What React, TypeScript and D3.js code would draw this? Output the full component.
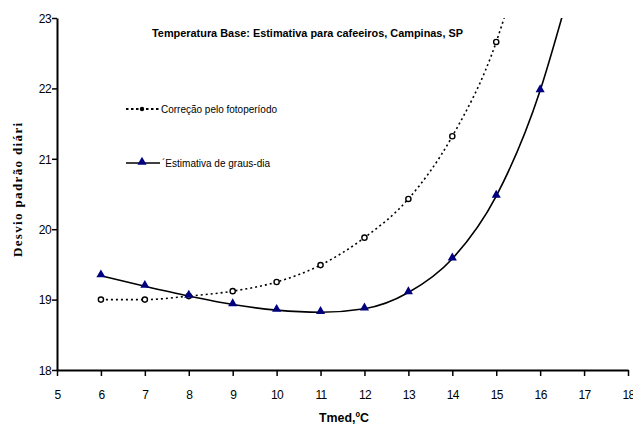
import React, { useRef, useEffect } from 'react';
import * as d3 from 'd3';

const xTicks = [5, 6, 7, 8, 9, 10, 11, 12, 13, 14, 15, 16, 17, 18];
const yTicks = [18, 19, 20, 21, 22, 23];

const tmedCorrecao = [6, 7, 8, 9, 10, 11, 12, 13, 14, 15];
const correcao = [19.0, 19.0, 19.05, 19.12, 19.25, 19.49, 19.88, 20.43, 21.32, 22.66];
// where the dotted curve leaves the top of the plot
const correcaoTail = [[15.19, 23.02]];

const tmedEstimativa = [6, 7, 8, 9, 10, 11, 12, 13, 14, 15, 16];
const estimativa = [19.34, 19.19, 19.05, 18.93, 18.85, 18.82, 18.87, 19.1, 19.58, 20.47, 21.97];
const estimativaTail = [[16.5, 23.02]];

const title = 'Temperatura Base: Estimativa para cafeeiros, Campinas, SP';
const legendLabels = ['Correção pelo fotoperíodo', '\u00b4Estimativa de graus-dia'];
const xLabel = 'Tmed,ºC';
const yLabel = 'Desvio padrão diário';

const NAVY = '#000080';
const SANS = '"Liberation Sans", Arial, sans-serif';

const App = () => {
    const ref = useRef<SVGSVGElement>(null);

    useEffect(() => {
        const svg = d3.select(ref.current);
        svg.selectAll('*').remove();

        const x = d3.scaleLinear().domain([5, 18]).range([57, 628]);
        const y = d3.scaleLinear().domain([18, 23]).range([370, 18]);

        svg.append('clipPath').attr('id', 'plot')
            .append('rect').attr('x', 57).attr('y', 18).attr('width', 580).attr('height', 360);
        svg.append('clipPath').attr('id', 'ylab')
            .append('rect').attr('x', 0).attr('y', 123).attr('width', 40).attr('height', 200);

        // axes
        const xAxis = svg.append('g')
            .attr('transform', `translate(0,${y(18)})`)
            .call(d3.axisBottom(x).tickValues(xTicks).tickSize(6).tickSizeOuter(0).tickFormat(d3.format('d')));
        const yAxis = svg.append('g')
            .attr('transform', `translate(${x(5)},0)`)
            .call(d3.axisLeft(y).tickValues(yTicks).tickSize(5).tickSizeOuter(0).tickFormat(d3.format('d')));
        [xAxis, yAxis].forEach(a => {
            a.select('.domain').attr('stroke', '#000').attr('stroke-width', 2);
            a.selectAll('.tick line').attr('stroke', '#000').attr('stroke-width', 1.5);
            a.selectAll('.tick text')
                .attr('fill', '#000')
                .style('font-family', SANS)
                .style('font-size', '12px')
                .style('letter-spacing', '-0.6px');
        });
        xAxis.selectAll('.tick text').attr('dy', 0).attr('y', 29);
        yAxis.selectAll('.tick text').attr('x', -6).attr('dy', '0.36em');

        const plot = svg.append('g').attr('clip-path', 'url(#plot)');
        const line = d3.line<number[]>()
            .x(d => x(d[0]))
            .y(d => y(d[1]))
            .curve(d3.curveMonotoneX);

        const corrPts = tmedCorrecao.map((t, i) => [t, correcao[i]]).concat(correcaoTail);
        const estPts = tmedEstimativa.map((t, i) => [t, estimativa[i]]).concat(estimativaTail);

        plot.append('path')
            .attr('d', line(corrPts))
            .attr('fill', 'none')
            .attr('stroke', '#000')
            .attr('stroke-width', 1.6)
            .attr('stroke-dasharray', '2 3');

        plot.append('path')
            .attr('d', line(estPts))
            .attr('fill', 'none')
            .attr('stroke', '#000')
            .attr('stroke-width', 1.6);

        const tri = d3.symbol().type(d3.symbolTriangle).size(36);

        plot.selectAll('circle.c')
            .data(tmedCorrecao)
            .join('circle')
            .attr('cx', d => x(d))
            .attr('cy', (d, i) => y(correcao[i]))
            .attr('r', 2.6)
            .attr('fill', '#fff')
            .attr('stroke', '#000')
            .attr('stroke-width', 1.4);

        plot.selectAll('path.t')
            .data(tmedEstimativa)
            .join('path')
            .attr('class', 't')
            .attr('d', tri())
            .attr('transform', (d, i) => `translate(${x(d)},${y(estimativa[i]) - 1})`)
            .attr('fill', NAVY);

        // title
        svg.append('text')
            .attr('x', 152).attr('y', 37)
            .attr('textLength', 311).attr('lengthAdjust', 'spacingAndGlyphs')
            .style('font-family', SANS).style('font-size', '11.5px').style('font-weight', 'bold')
            .text(title);

        // legend
        const lg = svg.append('g');
        lg.append('line').attr('x1', 126).attr('x2', 160).attr('y1', 109).attr('y2', 109)
            .attr('stroke', '#000').attr('stroke-width', 2.2).attr('stroke-dasharray', '2.5 2.5');
        lg.append('circle').attr('cx', 142).attr('cy', 109).attr('r', 2.2).attr('fill', '#000');
        lg.append('text').attr('x', 161).attr('y', 113)
            .attr('textLength', 116).attr('lengthAdjust', 'spacingAndGlyphs')
            .style('font-family', SANS).style('font-size', '11px')
            .text(legendLabels[0]);

        lg.append('line').attr('x1', 126).attr('x2', 160).attr('y1', 163).attr('y2', 163)
            .attr('stroke', '#000').attr('stroke-width', 1.6);
        lg.append('path').attr('d', tri()).attr('transform', 'translate(142,162)').attr('fill', NAVY);
        lg.append('text').attr('x', 162).attr('y', 167)
            .attr('textLength', 108).attr('lengthAdjust', 'spacingAndGlyphs')
            .style('font-family', SANS).style('font-size', '11px')
            .text(legendLabels[1]);

        // axis titles
        svg.append('text')
            .attr('x', 319).attr('y', 422)
            .attr('textLength', 50).attr('lengthAdjust', 'spacingAndGlyphs')
            .style('font-family', SANS).style('font-size', '12px').style('font-weight', 'bold')
            .text(xLabel);

        svg.append('g').attr('clip-path', 'url(#ylab)')
            .append('text')
            .attr('transform', 'translate(22,257) rotate(-90)')
            .attr('textLength', 142).attr('lengthAdjust', 'spacing')
            .style('font-family', '"Liberation Serif", "Times New Roman", serif')
            .style('font-size', '13px').style('font-weight', 'bold')
            .text(yLabel);
    }, []);

    return (
        <svg ref={ref} width="633" height="424"
            style={{ position: 'absolute', left: 0, top: 0, background: '#fff' }}></svg>
    );
};

export default App;
